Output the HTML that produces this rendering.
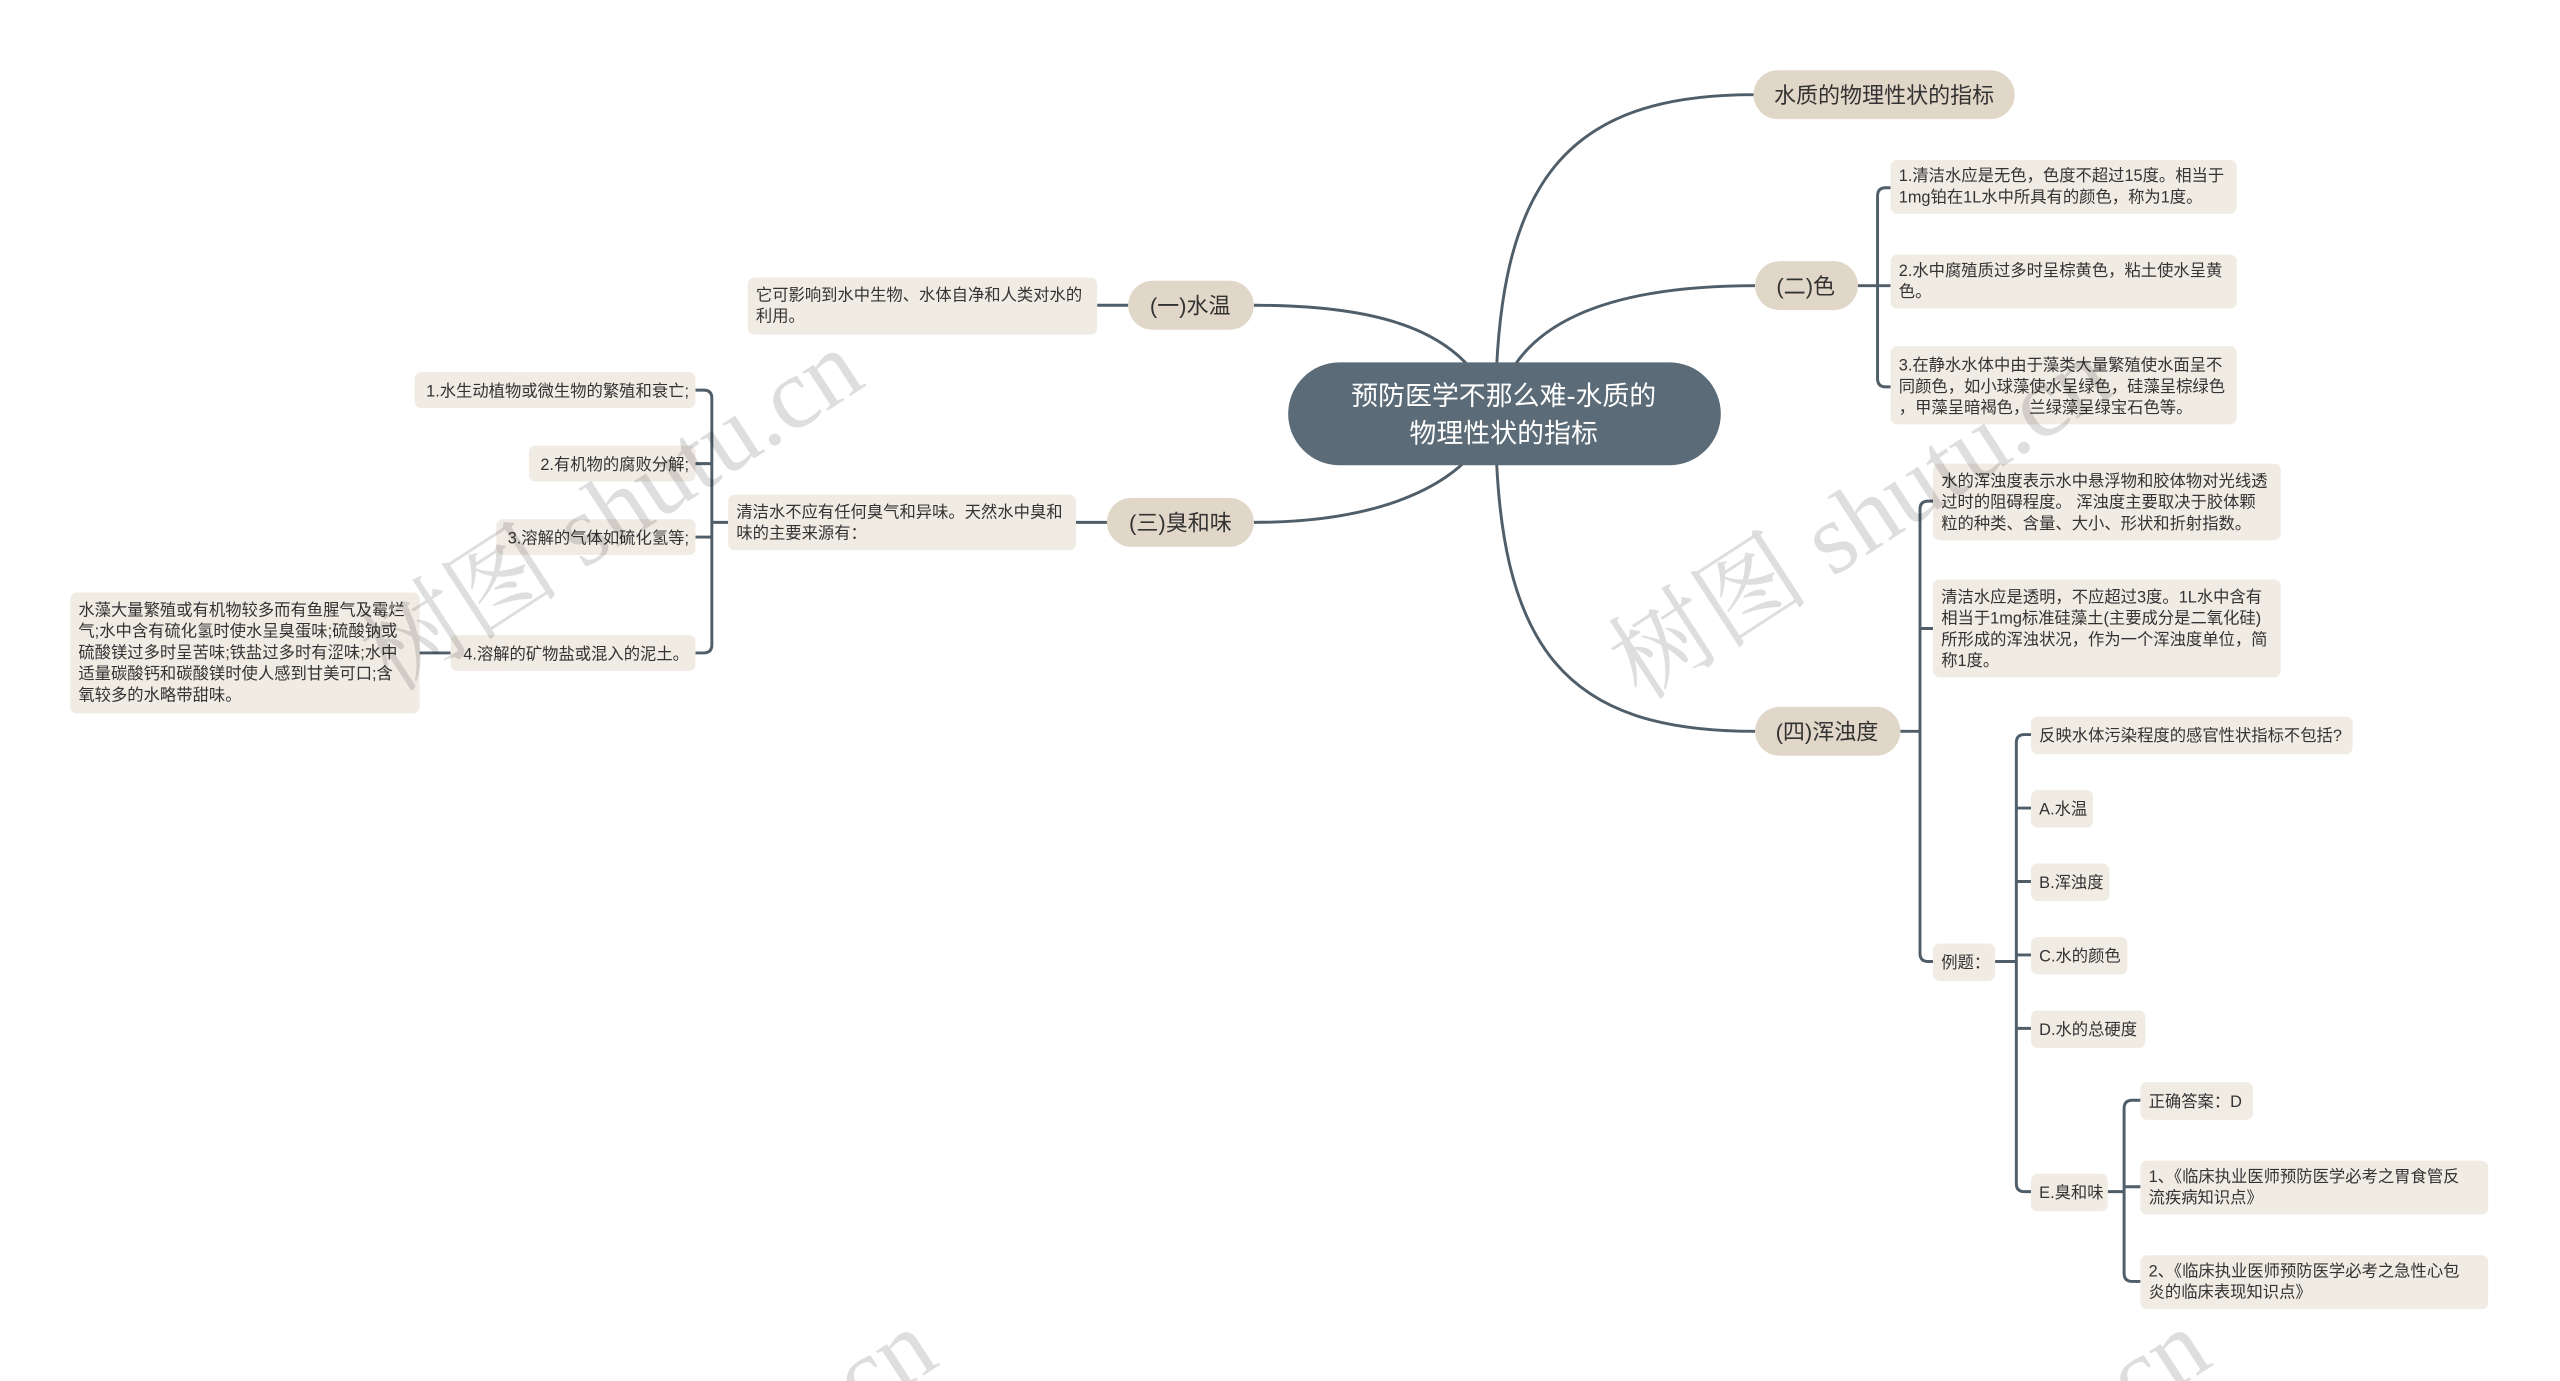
<!DOCTYPE html>
<html><head><meta charset="utf-8"><style>
html,body{margin:0;padding:0;background:#fff;width:2560px;height:1381px;overflow:hidden;}
svg{display:block;}
text{font-family:"Liberation Sans","Noto Sans CJK SC",sans-serif;}
.lf{fill:#f0ece4;}
.l1{fill:#e1d7c8;}
.t{font-size:10px;fill:#333;}
.t1{font-size:13.5px;fill:#333;}
.c{fill:none;stroke:#4f5e69;stroke-width:1.8;}
.wm{font-family:"Liberation Serif","Noto Serif CJK SC",serif;font-size:62px;fill:#000;fill-opacity:0.13;}
</style></head><body>
<svg width="2560" height="1381" viewBox="0 0 1568 846" preserveAspectRatio="none" xmlns="http://www.w3.org/2000/svg">
<rect width="1568" height="846" fill="#fff"/>
<path class="c" d="M916 254 C916 110 960 58 1074 58"/>
<path class="c" d="M916 254 C925 200 980 175 1075 175"/>
<path class="c" d="M916 254 C916 400 960 448 1075 448"/>
<path class="c" d="M916 254 C900 200 840 187 768 187"/>
<path class="c" d="M916 254 C900 300 840 320 768 320"/>
<path class="c" d="M1138 175 H1150 M1158 115 H1155 Q1150 115 1150 120 V232 Q1150 237 1155 237 H1158 M1150 175 H1158"/>
<path class="c" d="M1164 448 H1176 M1184 307 H1181 Q1176 307 1176 312 V584 Q1176 589 1181 589 H1184 M1176 385 H1184"/>
<path class="c" d="M1222 589 H1235 M1244 450 H1240 Q1235 450 1235 455 V725 Q1235 730 1240 730 H1244 M1235 495 H1244 M1235 540 H1244 M1235 585 H1244 M1235 630 H1244"/>
<path class="c" d="M1291 730 H1301 M1311 674 H1306 Q1301 674 1301 679 V780 Q1301 785 1306 785 H1311 M1301 727 H1311"/>
<path class="c" d="M672 187 H691"/>
<path class="c" d="M659 320 H678"/>
<path class="c" d="M446 320 H436 M426 239 H431 Q436 239 436 244 V395 Q436 400 431 400 H426 M436 284 H426 M436 329 H426"/>
<path class="c" d="M257 400 H276"/>

<rect x="789" y="222" width="265" height="63" rx="31.5" fill="#5b6b77"/>
<text x="921" y="248" text-anchor="middle" style="font-size:16.5px;fill:#fff">预防医学不那么难-水质的</text>
<text x="921" y="271" text-anchor="middle" style="font-size:16.5px;fill:#fff">物理性状的指标</text>

<rect class="l1" x="1074" y="43" width="160" height="30" rx="15"/><text class="t1" x="1154" y="63" text-anchor="middle">水质的物理性状的指标</text>
<rect class="l1" x="1075" y="160" width="63" height="30" rx="15"/><text class="t1" x="1106" y="180" text-anchor="middle">(二)色</text>
<rect class="l1" x="1075" y="433" width="89" height="30" rx="15"/><text class="t1" x="1119" y="453" text-anchor="middle">(四)浑浊度</text>
<rect class="l1" x="691" y="172" width="77" height="30" rx="15"/><text class="t1" x="729" y="192" text-anchor="middle">(一)水温</text>
<rect class="l1" x="678" y="305" width="90" height="30" rx="15"/><text class="t1" x="723" y="325" text-anchor="middle">(三)臭和味</text>

<rect class="lf" x="1158" y="98" width="212" height="33" rx="4"/>
<text class="t" x="1163" y="111">1.清洁水应是无色，色度不超过15度。相当于</text>
<text class="t" x="1163" y="124">1mg铂在1L水中所具有的颜色，称为1度。</text>
<rect class="lf" x="1158" y="156" width="212" height="33" rx="4"/>
<text class="t" x="1163" y="169">2.水中腐殖质过多时呈棕黄色，粘土使水呈黄</text>
<text class="t" x="1163" y="182">色。</text>
<rect class="lf" x="1158" y="212" width="212" height="48" rx="4"/>
<text class="t" x="1163" y="227">3.在静水水体中由于藻类大量繁殖使水面呈不</text>
<text class="t" x="1163" y="240">同颜色，如小球藻使水呈绿色，硅藻呈棕绿色</text>
<text class="t" x="1163" y="253">，甲藻呈暗褐色，兰绿藻呈绿宝石色等。</text>

<rect class="lf" x="1184" y="284" width="213" height="47" rx="4"/>
<text class="t" x="1189" y="298">水的浑浊度表示水中悬浮物和胶体物对光线透</text>
<text class="t" x="1189" y="311">过时的阻碍程度。 浑浊度主要取决于胶体颗</text>
<text class="t" x="1189" y="324">粒的种类、含量、大小、形状和折射指数。</text>
<rect class="lf" x="1184" y="355" width="213" height="60" rx="4"/>
<text class="t" x="1189" y="369">清洁水应是透明，不应超过3度。1L水中含有</text>
<text class="t" x="1189" y="382">相当于1mg标准硅藻土(主要成分是二氧化硅)</text>
<text class="t" x="1189" y="395">所形成的浑浊状况，作为一个浑浊度单位，简</text>
<text class="t" x="1189" y="408">称1度。</text>
<rect class="lf" x="1184" y="578" width="38" height="23" rx="4"/>
<text class="t" x="1189" y="593">例题：</text>

<rect class="lf" x="1244" y="439" width="197" height="23" rx="4"/><text class="t" x="1249" y="454">反映水体污染程度的感官性状指标不包括?</text>
<rect class="lf" x="1244" y="484" width="38" height="23" rx="4"/><text class="t" x="1249" y="499">A.水温</text>
<rect class="lf" x="1244" y="529" width="48" height="23" rx="4"/><text class="t" x="1249" y="544">B.浑浊度</text>
<rect class="lf" x="1244" y="574" width="59" height="23" rx="4"/><text class="t" x="1249" y="589">C.水的颜色</text>
<rect class="lf" x="1244" y="619" width="70" height="23" rx="4"/><text class="t" x="1249" y="634">D.水的总硬度</text>
<rect class="lf" x="1244" y="719" width="47" height="23" rx="4"/><text class="t" x="1249" y="734">E.臭和味</text>

<rect class="lf" x="1311" y="663" width="69" height="23" rx="4"/><text class="t" x="1316" y="678">正确答案：D</text>
<rect class="lf" x="1311" y="711" width="213" height="33" rx="4"/>
<text class="t" x="1316" y="724">1、《临床执业医师预防医学必考之胃食管反</text>
<text class="t" x="1316" y="737">流疾病知识点》</text>
<rect class="lf" x="1311" y="769" width="213" height="33" rx="4"/>
<text class="t" x="1316" y="782">2、《临床执业医师预防医学必考之急性心包</text>
<text class="t" x="1316" y="795">炎的临床表现知识点》</text>

<rect class="lf" x="458" y="170" width="214" height="35" rx="4"/>
<text class="t" x="463" y="184">它可影响到水中生物、水体自净和人类对水的</text>
<text class="t" x="463" y="197">利用。</text>
<rect class="lf" x="446" y="303" width="213" height="34" rx="4"/>
<text class="t" x="451" y="317">清洁水不应有任何臭气和异味。天然水中臭和</text>
<text class="t" x="451" y="330">味的主要来源有：</text>
<rect class="lf" x="254" y="228" width="172" height="22" rx="4"/><text class="t" x="422" y="243" text-anchor="end">1.水生动植物或微生物的繁殖和衰亡;</text>
<rect class="lf" x="324" y="273" width="102" height="22" rx="4"/><text class="t" x="422" y="288" text-anchor="end">2.有机物的腐败分解;</text>
<rect class="lf" x="304" y="318" width="122" height="22" rx="4"/><text class="t" x="422" y="333" text-anchor="end">3.溶解的气体如硫化氢等;</text>
<rect class="lf" x="276" y="389" width="150" height="22" rx="4"/><text class="t" x="422" y="404" text-anchor="end">4.溶解的矿物盐或混入的泥土。</text>
<rect class="lf" x="43" y="363" width="214" height="74" rx="4"/>
<text class="t" x="48" y="377">水藻大量繁殖或有机物较多而有鱼腥气及霉烂</text>
<text class="t" x="48" y="390">气;水中含有硫化氢时使水呈臭蛋味;硫酸钠或</text>
<text class="t" x="48" y="403">硫酸镁过多时呈苦味;铁盐过多时有涩味;水中</text>
<text class="t" x="48" y="416">适量碳酸钙和碳酸镁时使人感到甘美可口;含</text>
<text class="t" x="48" y="429">氧较多的水略带甜味。</text>

<text class="wm" transform="translate(240,425) rotate(-33)">树图 shutu.cn</text>
<text class="wm" transform="translate(1005,430) rotate(-33)">树图 shutu.cn</text>
<text class="wm" transform="translate(285,1025) rotate(-33)">树图 shutu.cn</text>
<text class="wm" transform="translate(1065,1025) rotate(-33)">树图 shutu.cn</text>
</svg>
</body></html>
